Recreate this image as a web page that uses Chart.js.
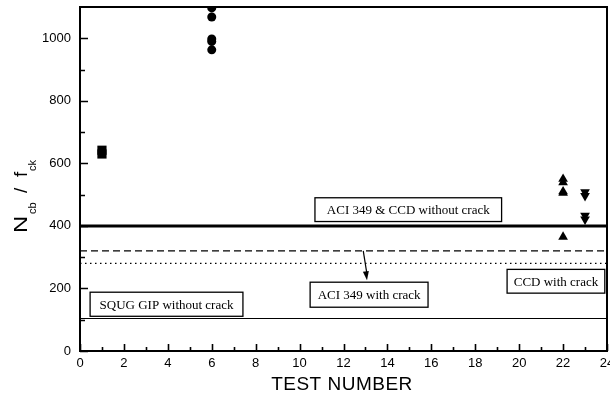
<!DOCTYPE html>
<html>
<head>
<meta charset="utf-8">
<script src="https://cdn.jsdelivr.net/npm/chart.js@4/dist/chart.umd.min.js"></script>
<style>
html,body{margin:0;padding:0;background:#fff;}
#wrap{width:610px;height:399px;}
</style>
</head>
<body>
<div id="wrap"><canvas id="c" width="610" height="399"></canvas></div>
<script>
// ---- data ----
const xTickValues = [0,2,4,6,8,10,12,14,16,18,20,22,24];
const yTickValues = [0,200,400,600,800,1000];
const test1X = 1;
const test1Values = [630, 642];
const test6X = 6;
const test6Values = [1097, 1068, 998, 990, 963];
const test22X = 22;
const test22Values = [550, 539, 510, 505, 365];
const test23X = 23;
const test23Values = [508, 496, 433, 421];
const limitACICCD = 400;      // ACI 349 & CCD without crack
const limitACICrack = 320;    // ACI 349 with crack
const limitCCDCrack = 280;    // CCD with crack
const limitSQUG = 104;        // SQUG GIP without crack
const xRange = [0, 24];
const yRange = [0, 1100];

const pts = (x, arr) => arr.map(v => ({x: x, y: v}));
const hline = v => [{x: xRange[0], y: v}, {x: xRange[1], y: v}];

// annotation boxes in data coordinates
const boxes = [
  {text:'ACI 349 & CCD without crack', x1:10.7, x2:19.2, y1:490, y2:414},
  {text:'ACI 349 with crack', x1:10.48, x2:15.85, y1:220, y2:140},
  {text:'SQUG GIP without crack', x1:0.46, x2:7.42, y1:188, y2:111},
  {text:'CCD with crack', x1:19.45, x2:23.9, y1:261, y2:185}
];
const arrow = {x1:12.9, y1:limitACICrack, x2:13.07, y2:226};

const decor = {
  id:'decor',
  afterDatasetsDraw(chart){
    const ctx = chart.ctx, a = chart.chartArea;
    const xs = chart.scales.x, ys = chart.scales.y;
    ctx.save();
    // frame
    ctx.strokeStyle = '#000';
    ctx.lineWidth = 2;
    ctx.strokeRect(a.left, a.top, a.right - a.left, a.bottom - a.top);
    // inward ticks
    ctx.lineWidth = 1.6;
    ctx.beginPath();
    for (let v = xRange[0]; v <= xRange[1]; v += 1) {
      const px = Math.round(xs.getPixelForValue(v)) + 0.5;
      const len = (v % 2 === 0) ? 7 : 4;
      ctx.moveTo(px, a.bottom); ctx.lineTo(px, a.bottom - len);
    }
    for (let v = 0; v <= 1000; v += 100) {
      const py = Math.round(ys.getPixelForValue(v)) + 0.5;
      const len = (v % 200 === 0) ? 8 : 5;
      ctx.moveTo(a.left, py); ctx.lineTo(a.left + len, py);
    }
    ctx.stroke();
    // boxes
    ctx.font = '13px "Liberation Serif", "Times New Roman", serif';
    ctx.textAlign = 'center';
    ctx.textBaseline = 'middle';
    ctx.lineWidth = 1.3;
    boxes.forEach(b => {
      const l = xs.getPixelForValue(b.x1), r = xs.getPixelForValue(b.x2);
      const t = ys.getPixelForValue(b.y1), bt = ys.getPixelForValue(b.y2);
      ctx.fillStyle = '#fff';
      ctx.fillRect(l, t, r - l, bt - t);
      ctx.strokeRect(l, t, r - l, bt - t);
      ctx.fillStyle = '#000';
      ctx.fillText(b.text, (l + r) / 2, (t + bt) / 2 + 1);
    });
    // arrow
    const ax1 = xs.getPixelForValue(arrow.x1), ay1 = ys.getPixelForValue(arrow.y1);
    const ax2 = xs.getPixelForValue(arrow.x2), ay2 = ys.getPixelForValue(arrow.y2);
    ctx.lineWidth = 1.2;
    ctx.beginPath(); ctx.moveTo(ax1, ay1); ctx.lineTo(ax2, ay2 - 6); ctx.stroke();
    const ang = Math.atan2(ay2 - ay1, ax2 - ax1);
    ctx.beginPath();
    ctx.moveTo(ax2, ay2);
    ctx.lineTo(ax2 - 9*Math.cos(ang) + 3*Math.sin(ang), ay2 - 9*Math.sin(ang) - 3*Math.cos(ang));
    ctx.lineTo(ax2 - 9*Math.cos(ang) - 3*Math.sin(ang), ay2 - 9*Math.sin(ang) + 3*Math.cos(ang));
    ctx.closePath(); ctx.fill();
    // x title
    ctx.fillStyle = '#000';
    ctx.font = '19px "Liberation Sans", Arial, sans-serif';
    ctx.textAlign = 'center';
    ctx.textBaseline = 'alphabetic';
    if ('letterSpacing' in ctx) ctx.letterSpacing = '0.5px';
    ctx.fillText('TEST NUMBER', 342, 390);
    if ('letterSpacing' in ctx) ctx.letterSpacing = '0px';
    // y title
    ctx.translate(27, 233);
    ctx.rotate(-Math.PI/2);
    ctx.textAlign = 'left';
    ctx.save(); ctx.scale(1.25, 1);
    ctx.font = '19px "Liberation Sans", Arial, sans-serif';
    ctx.fillText('N', 0, 0);
    ctx.restore();
    ctx.font = '11px "Liberation Sans", Arial, sans-serif';
    ctx.fillText('cb', 19, 9);
    ctx.font = '19px "Liberation Sans", Arial, sans-serif';
    ctx.fillText('/', 40, 0);
    ctx.fillText('f', 56, 0);
    ctx.font = '11px "Liberation Sans", Arial, sans-serif';
    ctx.fillText('ck', 62, 9);
    ctx.restore();
  }
};

const lineDs = (v, w, dash) => ({
  type:'line', data: hline(v), borderColor:'#000', borderWidth:w, borderDash:dash,
  pointRadius:0, showLine:true, fill:false, order:2
});

const zeroPad = s => { s.paddingTop = 0; s.paddingBottom = 0; s.paddingLeft = 0; s.paddingRight = 0; };

new Chart(document.getElementById('c'), {
  type:'scatter',
  data:{
    datasets:[
      lineDs(limitACICCD, 3, []),
      lineDs(limitACICrack, 1.2, [7,4]),
      lineDs(limitCCDCrack, 1.2, [1.5,3.5]),
      lineDs(limitSQUG, 1.2, []),
      {data: pts(test1X, test1Values), pointStyle:'rect', pointRadius:6.5, backgroundColor:'#000', borderWidth:0, order:1},
      {data: pts(test6X, test6Values), pointStyle:'circle', pointRadius:4.5, backgroundColor:'#000', borderWidth:0, order:1},
      {data: pts(test22X, test22Values), pointStyle:'triangle', pointRadius:5.6, backgroundColor:'#000', borderWidth:0, order:1},
      {data: pts(test23X, test23Values), pointStyle:'triangle', rotation:180, pointRadius:5.6, backgroundColor:'#000', borderWidth:0, order:1}
    ]
  },
  options:{
    responsive:false, animation:false, devicePixelRatio:1,
    layout:{autoPadding:false, padding:{left:0, right:3, top:7, bottom:0}},
    plugins:{legend:{display:false}, tooltip:{enabled:false}},
    scales:{
      x:{
        type:'linear', min:xRange[0], max:xRange[1],
        grid:{display:false, drawTicks:false}, border:{display:false},
        afterBuildTicks(s){ s.ticks = xTickValues.map(v => ({value:v})); },
        afterFit(s){ s.height = 48; zeroPad(s); },
        ticks:{padding:5, color:'#000', maxRotation:0, autoSkip:false,
          callback: v => String(v),
          font:{family:'"Liberation Sans", Arial, sans-serif', size:13}}
      },
      y:{
        type:'linear', min:yRange[0], max:yRange[1],
        grid:{display:false, drawTicks:false}, border:{display:false},
        afterBuildTicks(s){ s.ticks = yTickValues.map(v => ({value:v})); },
        afterFit(s){ s.width = 80; zeroPad(s); },
        ticks:{padding:9, color:'#000', autoSkip:false,
          callback: v => String(v),
          font:{family:'"Liberation Sans", Arial, sans-serif', size:13}}
      }
    }
  },
  plugins:[decor]
});
</script>
</body>
</html>
